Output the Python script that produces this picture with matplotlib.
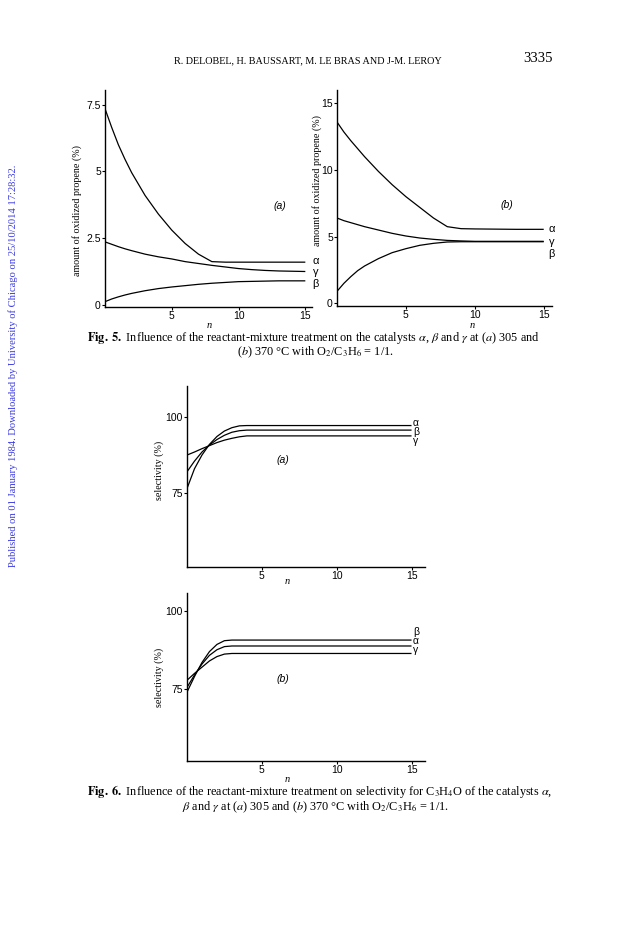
import matplotlib
matplotlib.use("Agg")
import matplotlib.pyplot as plt

# ---- data ----
# Fig. 5 (amount of oxidized propene, %)
n5 = [0, 0.5, 1, 1.5, 2, 3, 4, 5, 6, 7, 8, 9, 10, 11, 12, 13, 14, 15]
a5_alpha = [7.35, 6.65, 6.0, 5.45, 4.95, 4.1, 3.4, 2.8, 2.3, 1.9, 1.62, 1.6, 1.6, 1.6, 1.6, 1.6, 1.6, 1.6]
a5_gamma = [2.36, 2.27, 2.18, 2.1, 2.03, 1.9, 1.8, 1.72, 1.62, 1.55, 1.48, 1.42, 1.36, 1.32, 1.29, 1.27, 1.26, 1.25]
a5_beta = [0.12, 0.22, 0.3, 0.37, 0.43, 0.53, 0.61, 0.67, 0.72, 0.77, 0.81, 0.84, 0.87, 0.88, 0.89, 0.9, 0.9, 0.9]
b5_alpha = [13.6, 12.85, 12.2, 11.6, 11.0, 9.9, 8.9, 8.0, 7.2, 6.4, 5.75, 5.6, 5.58, 5.57, 5.56, 5.55, 5.55, 5.55]
b5_gamma = [6.4, 6.2, 6.05, 5.9, 5.75, 5.5, 5.25, 5.05, 4.9, 4.8, 4.72, 4.68, 4.65, 4.65, 4.65, 4.65, 4.65, 4.65]
b5_beta = [0.9, 1.5, 2.0, 2.45, 2.8, 3.35, 3.8, 4.1, 4.35, 4.5, 4.6, 4.62, 4.62, 4.62, 4.62, 4.62, 4.62, 4.62]

# Fig. 6 (selectivity, %)
n6a = [0, 0.5, 1, 1.5, 2, 2.5, 3, 3.5, 4, 15]
a6_alpha = [76.5, 83.0, 87.5, 91.0, 93.6, 95.4, 96.5, 97.1, 97.2, 97.2]
a6_beta = [82.0, 85.5, 88.5, 90.8, 92.6, 94.0, 95.0, 95.5, 95.7, 95.7]
a6_gamma = [87.5, 88.5, 89.6, 90.6, 91.6, 92.4, 93.0, 93.5, 93.8, 93.8]
n6b = [0, 0.5, 1, 1.5, 2, 2.5, 3, 15]
b6_beta = [74.0, 79.0, 83.5, 87.0, 89.3, 90.5, 90.7, 90.7]
b6_alpha = [75.5, 79.5, 83.0, 85.8, 87.6, 88.6, 88.8, 88.8]
b6_gamma = [77.8, 80.0, 82.0, 84.0, 85.4, 86.2, 86.4, 86.4]

W, H = 624, 935
SERIF = "Liberation Serif"
SANS = "Liberation Sans"

plt.rcParams["mathtext.fontset"] = "stix"

fig = plt.figure(figsize=(W / 100, H / 100), dpi=100)
fig.patch.set_facecolor("white")


def px_axes(left, top, right, bottom):
    return fig.add_axes([left / W, 1 - bottom / H, (right - left) / W, (bottom - top) / H])


def ftext(x, y, s, **kw):
    fig.text(x / W, 1 - y / H, s, **kw)


def style(ax, xlim, ylim, yticks, yticklabels):
    ax.set_xlim(*xlim)
    ax.set_ylim(*ylim)
    for side in ("top", "right"):
        ax.spines[side].set_visible(False)
    for side in ("left", "bottom"):
        ax.spines[side].set_linewidth(1.0)
    ax.set_xticks([5, 10, 15])
    ax.set_xticklabels(["5", "10", "15"], fontfamily=SANS, fontsize=7.5)
    ax.set_yticks(yticks)
    ax.set_yticklabels(yticklabels, fontfamily=SANS, fontsize=7.5)
    ax.tick_params(direction="out", length=2.5, width=0.8, pad=0.5)
    ax.patch.set_alpha(0)


def draw(ax, x, series, labels, label_x, label_y, size=8):
    for y in series:
        ax.plot(x, y, color="black", lw=0.9, solid_capstyle="butt")
    for lab, ly in zip(labels, label_y):
        ax.text(label_x, ly, lab, fontfamily=SANS, fontsize=size, va="center", ha="left",
                clip_on=False)


# Fig. 5a
ax = px_axes(105, 90, 312, 307)
style(ax, (0, 15.5), (-0.08, 8.05), [0, 2.5, 5, 7.5], ["0", "2.5", "5", "7.5"])
draw(ax, n5, [a5_alpha, a5_gamma, a5_beta], ["α", "γ", "β"], 15.55, [1.64, 1.22, 0.8])
ax.text(13.1, 3.7, "(a)", fontfamily=SANS, fontstyle="italic", fontsize=7.5, ha="center", va="center")

# Fig. 5b
ax = px_axes(337, 90, 552, 306)
style(ax, (0, 15.6), (-0.2, 16.0), [0, 5, 10, 15], ["0", "5", "10", "15"])
draw(ax, n5, [b5_alpha, b5_gamma, b5_beta], ["α", "γ", "β"], 15.35, [5.55, 4.6, 3.7])
ax.text(12.3, 7.4, "(b)", fontfamily=SANS, fontstyle="italic", fontsize=7.5, ha="center", va="center")

# Fig. 6a
ax = px_axes(187, 386, 425, 567)
style(ax, (0, 15.9), (50.7, 110.2), [75, 100], ["75", "100"])
draw(ax, n6a, [a6_alpha, a6_beta, a6_gamma], ["α", "β", "γ"], 15.1, [98.1, 95.1, 92.1], size=7.5)
ax.text(6.4, 85.9, "(a)", fontfamily=SANS, fontstyle="italic", fontsize=7.5, ha="center", va="center")

# Fig. 6b
ax = px_axes(187, 593, 425, 761)
style(ax, (0, 15.9), (51.9, 105.8), [75, 100], ["75", "100"])
draw(ax, n6b, [b6_beta, b6_alpha, b6_gamma], ["β", "α", "γ"], 15.1, [93.2, 90.3, 87.4], size=7.5)
ax.text(6.4, 78.2, "(b)", fontfamily=SANS, fontstyle="italic", fontsize=7.5, ha="center", va="center")

# axis titles
ylab = dict(fontfamily=SERIF, fontsize=7.2, rotation=90, ha="center", va="center")
ftext(77, 211, "amount of oxidized propene (%)", **ylab)
ftext(317, 181, "amount of oxidized propene (%)", **ylab)
ftext(159, 470, "selectivity (%)", **ylab)
ftext(159, 677, "selectivity (%)", **ylab)
xlab = dict(fontfamily=SERIF, fontsize=7.5, fontstyle="italic", ha="center", va="center")
for x, y in [(209, 325), (472, 325), (287, 582), (287, 779)]:
    ftext(x, y, "n", **xlab)

# page header
ftext(308, 61, "R. DELOBEL, H. BAUSSART, M. LE BRAS AND J-M. LEROY",
      fontfamily=SERIF, fontsize=7.3, ha="center", va="center")
ftext(538, 59, "3335", fontfamily=SERIF, fontsize=10.5, ha="center", va="center")

# captions
cap = dict(fontfamily=SERIF, fontsize=8.8, va="center")
ftext(87, 338, r"$\mathbf{Fig.\ 5.}$ Influence of the reactant-mixture treatment on the catalysts $\alpha$, $\beta$ and $\gamma$ at ($a$) 305 and",
      ha="left", **cap)
ftext(315, 352, r"($b$) 370 °C with O$_2$/C$_3$H$_6$ = 1/1.", ha="center", **cap)
ftext(87, 792, r"$\mathbf{Fig.\ 6.}$ Influence of the reactant-mixture treatment on selectivity for C$_3$H$_4$O of the catalysts $\alpha$,",
      ha="left", **cap)
ftext(315, 807, r"$\beta$ and $\gamma$ at ($a$) 305 and ($b$) 370 °C with O$_2$/C$_3$H$_6$ = 1/1.", ha="center", **cap)

# side stamp
ftext(13, 366, "Published on 01 January 1984. Downloaded by University of Chicago on 25/10/2014 17:28:32.",
      fontfamily=SERIF, fontsize=7.6, color="#3a3ae0", rotation=90, ha="center", va="center")

fig.savefig("out.png", dpi=100, facecolor="white")
